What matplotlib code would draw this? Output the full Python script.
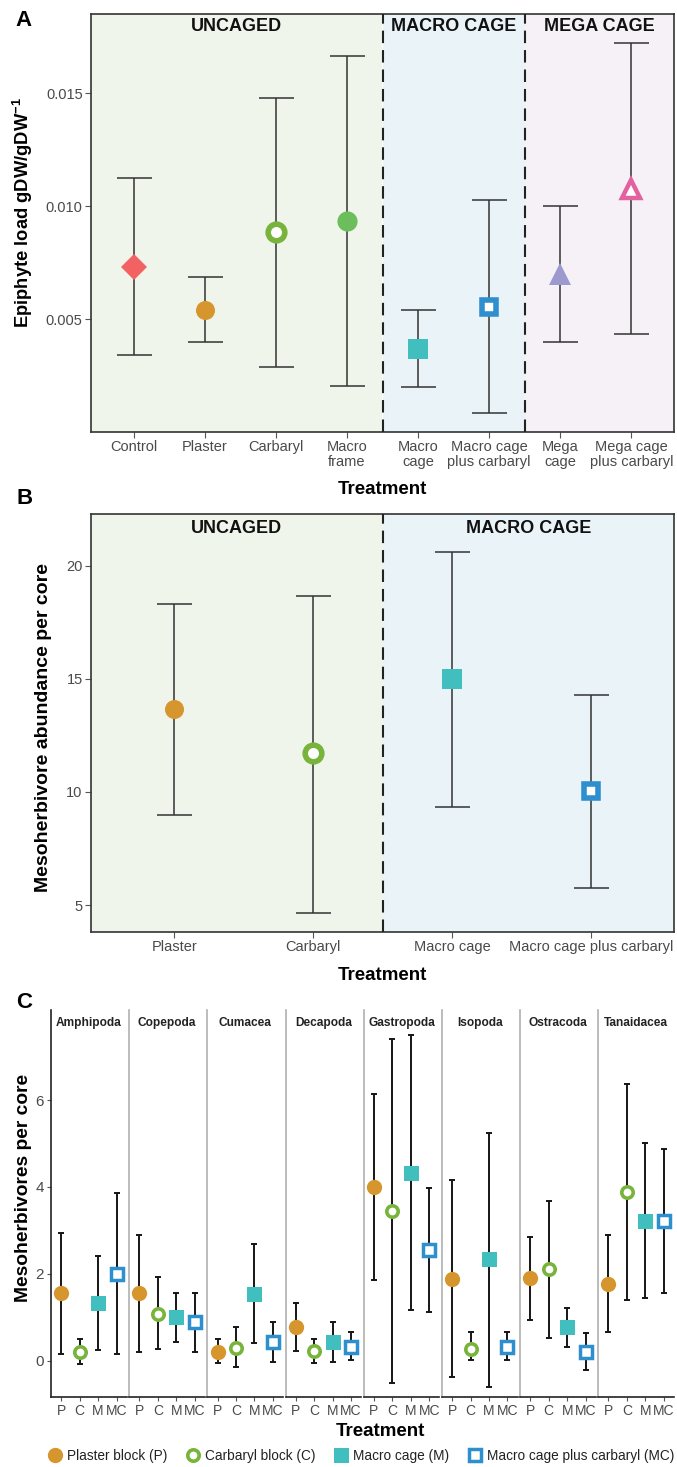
import numpy as np
import matplotlib.pyplot as plt
from matplotlib.lines import Line2D

plt.rcParams['font.family'] = ['Liberation Sans', 'DejaVu Sans']
plt.rcParams['mathtext.default'] = 'regular'
plt.rcParams['lines.scale_dashes'] = False

W, H = 677, 1467

# Panel A: epiphyte load by treatment
treat_a = ["Control", "Plaster", "Carbaryl", "Macro\nframe", "Macro\ncage",
           "Macro cage\nplus carbaryl", "Mega\ncage", "Mega cage\nplus carbaryl"]
epi_mean = [0.0073, 0.0054, 0.00885, 0.00934, 0.00367, 0.00553, 0.0070, 0.01075]
epi_lo = [0.0034, 0.0040, 0.00288, 0.00204, 0.0020, 0.00084, 0.0040, 0.00434]
epi_hi = [0.01124, 0.00686, 0.01478, 0.01664, 0.0054, 0.01027, 0.0100, 0.01721]

# Panel B: total mesoherbivore abundance
treat_b = ["Plaster", "Carbaryl", "Macro cage", "Macro cage plus carbaryl"]
abund_mean = [13.69, 11.71, 15.0, 10.03]
abund_lo = [8.97, 4.65, 9.33, 5.75]
abund_hi = [18.32, 18.68, 20.62, 14.27]

# Panel C: per taxon, treatments P, C, M, MC
taxa = ["Amphipoda", "Copepoda", "Cumacea", "Decapoda",
        "Gastropoda", "Isopoda", "Ostracoda", "Tanaidacea"]
trt_c = ["P", "C", "M", "MC"]
taxa_mean = [
    [1.56, 0.21, 1.33, 1.99],
    [1.56, 1.07, 1.00, 0.89],
    [0.20, 0.29, 1.54, 0.43],
    [0.77, 0.23, 0.43, 0.33],
    [3.99, 3.44, 4.33, 2.55],
    [1.89, 0.28, 2.34, 0.33],
    [1.90, 2.11, 0.77, 0.21],
    [1.77, 3.89, 3.22, 3.22],
]
taxa_lo = [
    [0.16, -0.07, 0.25, 0.16],
    [0.21, 0.28, 0.43, 0.20],
    [-0.05, -0.13, 0.41, -0.03],
    [0.23, -0.05, -0.03, 0.01],
    [1.86, -0.50, 1.16, 1.13],
    [-0.38, 0.01, -0.59, 0.01],
    [0.93, 0.52, 0.33, -0.22],
    [0.66, 1.40, 1.44, 1.56],
]
taxa_hi = [
    [2.95, 0.51, 2.41, 3.85],
    [2.90, 1.94, 1.57, 1.57],
    [0.51, 0.79, 2.68, 0.90],
    [1.33, 0.51, 0.90, 0.66],
    [6.13, 7.40, 7.49, 3.97],
    [4.16, 0.66, 5.25, 0.66],
    [2.84, 3.68, 1.21, 0.65],
    [2.90, 6.36, 5.00, 4.87],
]
legend_labels = ["Plaster block (P)", "Carbaryl block (C)", "Macro cage (M)",
                 "Macro cage plus carbaryl (MC)"]

RED, GOLD, GREEN, LGREEN = "#f26262", "#d6952d", "#78b43c", "#6cbd5c"
TEAL, BLUE, LAV, PINK = "#41bfbf", "#2e8fce", "#9c99cf", "#e4619f"
BG_UNC, BG_MAC, BG_MEG = "#f0f5ec", "#eaf4f8", "#f6f0f7"
TXT = "#4a4a4a"

# marker, colour, filled, size, edge width
marks_a = [("D", RED, True, 13.5, 0), ("o", GOLD, True, 13.7, 0),
           ("o", GREEN, False, 12.0, 4.0), ("o", LGREEN, True, 14.5, 0),
           ("s", TEAL, True, 14.4, 0), ("s", BLUE, False, 10.0, 4.0),
           ("^", LAV, True, 16, 0), ("^", PINK, False, 13, 3.2)]
marks_b = [marks_a[1], marks_a[2], marks_a[4], marks_a[5]]
marks_c = [("o", GOLD, True, 11, 0), ("o", GREEN, False, 8.2, 2.6),
           ("s", TEAL, True, 10.8, 0), ("s", BLUE, False, 8.0, 2.5)]

fig = plt.figure(figsize=(W / 100, H / 100), dpi=100)


def px_ax(left, top, right, bottom):
    return fig.add_axes([left / W, 1 - bottom / H, (right - left) / W, (bottom - top) / H])


def draw_marker(ax, x, y, spec, scale=1.0):
    marker, color, filled, ms, mew = spec
    if filled:
        ax.plot(x, y, ls="none", marker=marker, ms=ms * scale, color=color, mew=0, zorder=4)
    else:
        ax.plot(x, y, ls="none", marker=marker, ms=ms * scale, mfc="white", mec=color,
                mew=mew * scale, zorder=4)


def box_style(ax):
    for s in ax.spines.values():
        s.set_color("#333333")
        s.set_linewidth(1.2)
    ax.set_facecolor("none")
    ax.tick_params(length=4, width=0.8, color="#555555", labelcolor=TXT, labelsize=10.5, pad=2)


def fig_text(x, y, s, **kw):
    fig.text(x / W, 1 - y / H, s, ha="center", va="center", **kw)


# ---- A
axA = px_ax(91, 14, 674, 432)
xa = np.arange(1, len(treat_a) + 1)
axA.axvspan(0.4, 4.5, color=BG_UNC, zorder=0, lw=0)
axA.axvspan(4.5, 6.5, color=BG_MAC, zorder=0, lw=0)
axA.axvspan(6.5, 8.6, color=BG_MEG, zorder=0, lw=0)
for xv in (4.5, 6.5):
    axA.axvline(xv, color="#222222", lw=1.5, ls=(0, (9, 5)), zorder=3)
m = np.array(epi_mean)
axA.errorbar(xa, m, yerr=[m - np.array(epi_lo), np.array(epi_hi) - m], fmt="none",
             ecolor="#333333", elinewidth=1.1, capsize=12.6, capthick=1.1, zorder=2)
for x, y, spec in zip(xa, epi_mean, marks_a):
    draw_marker(axA, x, y, spec)
axA.set_xlim(0.4, 8.6)
axA.set_ylim(0, 0.0185)
axA.set_yticks([0.005, 0.010, 0.015])
axA.set_yticklabels(["0.005", "0.010", "0.015"])
axA.set_xticks(xa)
axA.set_xticklabels(treat_a, linespacing=1.05)
box_style(axA)
for cx, lab in ((2.45, "UNCAGED"), (5.5, "MACRO CAGE"), (7.55, "MEGA CAGE")):
    axA.text(cx, 0.969, lab, transform=axA.get_xaxis_transform(), ha="center", va="center",
             fontsize=13, fontweight="bold", color="#111111")

# ---- B
axB = px_ax(91, 514, 674, 932)
xb = np.arange(1, len(treat_b) + 1)
axB.axvspan(0.4, 2.5, color=BG_UNC, zorder=0, lw=0)
axB.axvspan(2.5, 4.6, color=BG_MAC, zorder=0, lw=0)
axB.axvline(2.5, color="#222222", lw=1.5, ls=(0, (9, 5)), zorder=3)
m = np.array(abund_mean)
axB.errorbar(xb, m, yerr=[m - np.array(abund_lo), np.array(abund_hi) - m], fmt="none",
             ecolor="#333333", elinewidth=1.1, capsize=12.6, capthick=1.1, zorder=2)
for x, y, spec in zip(xb, abund_mean, marks_b):
    draw_marker(axB, x, y, spec)
axB.set_xlim(0.4, 4.6)
axB.set_ylim(3.81, 22.29)
axB.set_yticks([5, 10, 15, 20])
axB.set_xticks(xb)
axB.set_xticklabels(treat_b)
box_style(axB)
for cx, lab in ((1.45, "UNCAGED"), (3.55, "MACRO CAGE")):
    axB.text(cx, 0.9665, lab, transform=axB.get_xaxis_transform(), ha="center", va="center",
             fontsize=13, fontweight="bold", color="#111111")

# ---- C: one small axes per taxon
left, right, top, bottom = 51, 674, 1010, 1397
gap = 2.5
fw = (right - left - 7 * gap) / 8
xc = np.arange(1, len(trt_c) + 1)
for i, taxon in enumerate(taxa):
    l0 = left + i * (fw + gap)
    ax = px_ax(l0, top, l0 + fw, bottom)
    mc = np.array(taxa_mean[i])
    ax.errorbar(xc, mc, yerr=[mc - np.array(taxa_lo[i]), np.array(taxa_hi[i]) - mc],
                fmt="none", ecolor="#151515", elinewidth=1.4, capsize=2.2, capthick=1.4, zorder=2)
    for x, y, spec in zip(xc, mc, marks_c):
        draw_marker(ax, x, y, spec)
    ax.set_xlim(0.45, 4.55)
    ax.set_ylim(-0.83, 8.07)
    ax.set_xticks(xc)
    ax.set_xticklabels(trt_c)
    ax.set_yticks([0, 2, 4, 6])
    ax.spines["top"].set_visible(False)
    ax.spines["right"].set_visible(False)
    ax.spines["bottom"].set_color("#222222")
    ax.spines["bottom"].set_linewidth(1.2)
    ax.spines["left"].set_linewidth(1.2)
    ax.set_facecolor("none")
    ax.tick_params(length=3, width=0.8, color="#555555", labelcolor=TXT, labelsize=10, pad=2)
    if i == 0:
        ax.spines["left"].set_color("#222222")
        ax.tick_params(axis="y", labelsize=11)
    else:
        ax.spines["left"].set_color("#b0b0b0")
        ax.tick_params(axis="y", left=False, labelleft=False)
    ax.text(0.5, 0.966, taxon, transform=ax.transAxes, ha="center", va="center",
            fontsize=8.6, fontweight="bold", color="#222222")

# labels
fig_text(24, 20, "A", fontsize=16, fontweight="bold")
fig_text(25, 498, "B", fontsize=16, fontweight="bold")
fig_text(24, 1002, "C", fontsize=16, fontweight="bold")
fig_text(23, 213, "Epiphyte load gDW/gDW$^{-1}$", rotation=90, fontsize=13.2,
         fontweight="bold", rotation_mode="anchor")
fig_text(44, 728, "Mesoherbivore abundance per core", rotation=90, fontsize=14,
         fontweight="bold", rotation_mode="anchor")
fig_text(24, 1188, "Mesoherbivores per core", rotation=90, fontsize=13.9,
         fontweight="bold", rotation_mode="anchor")
fig_text(382, 490, "Treatment", fontsize=13.5, fontweight="bold")
fig_text(382, 975, "Treatment", fontsize=13.5, fontweight="bold")
fig_text(380, 1432, "Treatment", fontsize=13.5, fontweight="bold")

# legend
handles = []
for marker, color, filled, ms, mew in marks_c:
    if filled:
        handles.append(Line2D([], [], ls="none", marker=marker, ms=ms, color=color, mew=0))
    else:
        handles.append(Line2D([], [], ls="none", marker=marker, ms=ms, mfc="white",
                              mec=color, mew=mew))
fig.legend(handles, legend_labels, loc="center left", bbox_to_anchor=(48 / W, 1 - 1456 / H),
           ncol=4, frameon=False, fontsize=9.8, handlelength=1.0, handletextpad=0.38,
           columnspacing=1.4, borderpad=0, borderaxespad=0, labelcolor="#222222")

fig.savefig("out.png", dpi=100)
